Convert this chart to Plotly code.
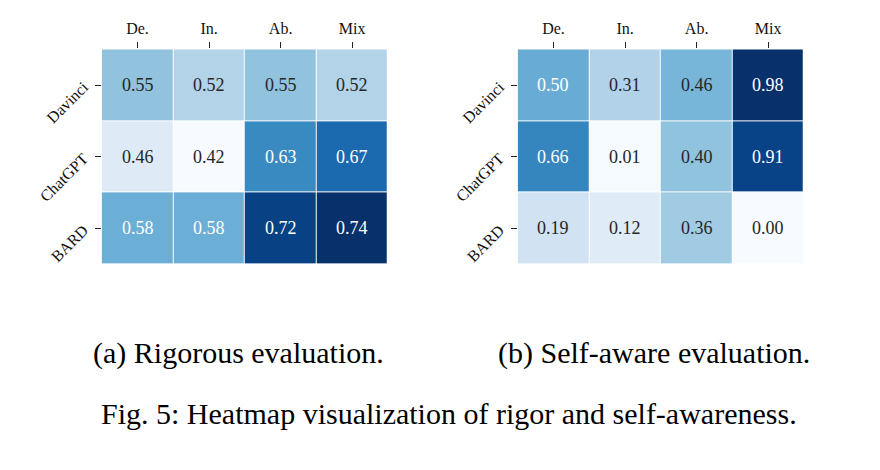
import plotly.graph_objects as go

models = ["Davinci", "ChatGPT", "BARD"]
tasks = ["De.", "In.", "Ab.", "Mix"]

rigorous = [
    [0.55, 0.52, 0.55, 0.52],
    [0.46, 0.42, 0.63, 0.67],
    [0.58, 0.58, 0.72, 0.74],
]
self_aware = [
    [0.50, 0.31, 0.46, 0.98],
    [0.66, 0.01, 0.40, 0.91],
    [0.19, 0.12, 0.36, 0.00],
]

captions = ["(a) Rigorous evaluation.", "(b) Self-aware evaluation."]
fig_caption = "Fig. 5: Heatmap visualization of rigor and self-awareness."

# matplotlib "Blues" colormap stops
blues_hex = ["#f7fbff", "#deebf7", "#c6dbef", "#9ecae1", "#6baed6",
             "#4292c6", "#2171b5", "#08519c", "#08306b"]
blues_scale = [[i / 8, c] for i, c in enumerate(blues_hex)]


def hex_rgb(h):
    return tuple(int(h[i:i + 2], 16) / 255 for i in (1, 3, 5))


def cmap(t):
    t = min(max(t, 0.0), 1.0)
    pos = t * 8
    i = min(int(pos), 7)
    f = pos - i
    a, b = hex_rgb(blues_hex[i]), hex_rgb(blues_hex[i + 1])
    return tuple(a[k] + (b[k] - a[k]) * f for k in range(3))


def luminance(rgb):
    def lin(c):
        return c / 12.92 if c <= 0.03928 else ((c + 0.055) / 1.055) ** 2.4
    r, g, b = (lin(c) for c in rgb)
    return 0.2126 * r + 0.7152 * g + 0.0722 * b


SERIF = "Liberation Serif"
fig = go.Figure()

panels = [(rigorous, "x", "y", [0.1065, 0.4318]),
          (self_aware, "x2", "y2", [0.5792, 0.9045])]
annotations = []
for data, xa, ya, dom in panels:
    flat = [v for row in data for v in row]
    zmin, zmax = min(flat), max(flat)
    fig.add_trace(go.Heatmap(
        z=data, x=tasks, y=models, xaxis=xa, yaxis=ya,
        colorscale=blues_scale, zmin=zmin, zmax=zmax,
        showscale=False, xgap=1, ygap=1, hoverinfo="skip",
    ))
    for r, row in enumerate(data):
        for c, v in enumerate(row):
            rgb = cmap((v - zmin) / (zmax - zmin))
            color = "#262626" if luminance(rgb) > 0.408 else "#ffffff"
            annotations.append(dict(
                x=tasks[c], y=models[r], xref=xa, yref=ya,
                text=f"{v:.2f}", showarrow=False,
                font=dict(family=SERIF, size=18, color=color),
            ))

axis_common = dict(showgrid=False, zeroline=False, showline=False,
                   automargin=False,
                   ticks="outside", ticklen=6, tickwidth=1, tickcolor="#222",
                   tickfont=dict(family=SERIF, size=16, color="#111"))
layout_axes = {}
for (data, xa, ya, dom), key in zip(panels, ["", "2"]):
    layout_axes["xaxis" + key] = dict(axis_common, domain=dom, side="top",
                                      anchor="y" + key, tickangle=0,
                                      ticklabelstandoff=2)
    layout_axes["yaxis" + key] = dict(axis_common, domain=[0.4553, 0.9121],
                                      anchor="x" + key, autorange="reversed",
                                      tickangle=-45, ticklabelstandoff=8)

cap_font = dict(family=SERIF, size=30, color="#000")
annotations += [
    dict(x=230 / 880, y=1 - 345 / 470, xref="paper", yref="paper",
         xanchor="center", yanchor="middle",
         text=captions[0], showarrow=False, font=cap_font),
    dict(x=646 / 880, y=1 - 345 / 470, xref="paper", yref="paper",
         xanchor="center", yanchor="middle",
         text=captions[1], showarrow=False, font=cap_font),
    dict(x=441 / 880, y=1 - 405 / 470, xref="paper", yref="paper",
         xanchor="center", yanchor="middle",
         text=fig_caption, showarrow=False, font=cap_font),
]

fig.update_layout(
    width=880, height=470,
    margin=dict(l=0, r=0, t=0, b=0),
    paper_bgcolor="white", plot_bgcolor="white",
    annotations=annotations,
    **layout_axes,
)

fig.write_html("out.html")
